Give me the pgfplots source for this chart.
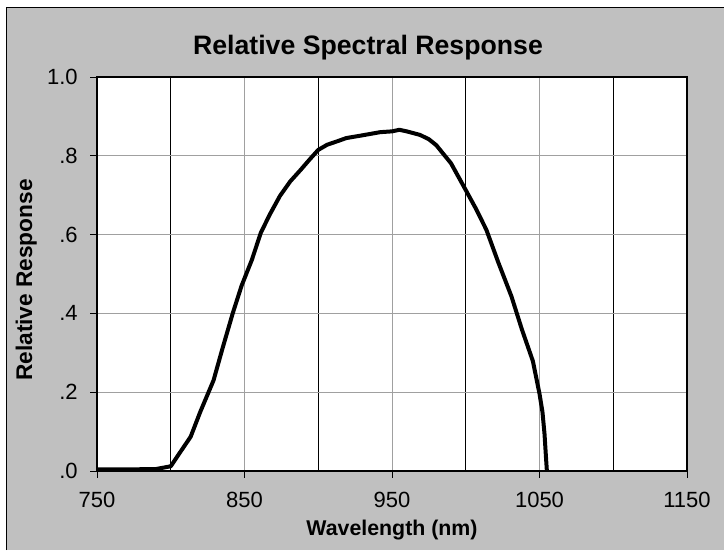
\documentclass[border=0pt]{standalone}
\usepackage{fontspec}
\setmainfont{Liberation Sans}
\usepackage{pgfplots}
\pgfplotsset{compat=1.18}
\definecolor{bggray}{HTML}{C0C0C0}
\definecolor{gridgray}{HTML}{A0A0A0}

% spectral response
\pgfplotstableread{
lam   r
750   0.004
770   0.004
790   0.005
800   0.012
805   0.040
813.5 0.087
820   0.150
829   0.230
835   0.310
842   0.400
848   0.470
855   0.536
861   0.604
867   0.650
874   0.698
881   0.735
888   0.764
894   0.790
900   0.815
906   0.828
913   0.837
919   0.845
930   0.852
942   0.860
950   0.862
955   0.866
960   0.862
969   0.853
975   0.842
980   0.827
990   0.781
1000  0.713
1007  0.665
1014  0.612
1022  0.530
1031  0.443
1038  0.360
1045.5 0.279
1050  0.196
1052  0.150
1053.4 0.094
1054.3 0.040
1055  0.000
}\resp

\begin{document}
\begin{tikzpicture}
\path[use as bounding box] (0,0) rectangle (543pt,412.5pt);
\fill[bggray] (5pt,0) rectangle (543pt,406.5pt);
\draw[black, line width=0.75pt] (5pt,0) -- (5pt,406.5pt) -- (543pt,406.5pt);

\begin{axis}[
  at={(72.75pt,59.25pt)}, anchor=south west,
  scale only axis, width=442.5pt, height=295.5pt,
  xmin=750, xmax=1150, ymin=0, ymax=1,
  xtick={750,850,950,1050,1150},
  minor xtick={800,900,1000,1100},
  ytick={0,0.2,0.4,0.6,0.8,1},
  yticklabels={.0,.2,.4,.6,.8,1.0},
  xtick pos=lower, ytick pos=left,
  xmajorgrids, ymajorgrids, xminorgrids,
  major grid style={gridgray, line width=0.6pt},
  minor grid style={black, line width=0.6pt},
  tick align=outside, major tick length=5pt, minor tick length=0pt,
  tick style={black, line width=0.6pt},
  axis line style={black, line width=0.9pt},
  axis background/.style={fill=white},
  xticklabel style={font=\fontsize{16.5}{19}\selectfont, yshift=-7pt},
  yticklabel style={font=\fontsize{16.5}{19}\selectfont, xshift=-6pt},
  /pgf/number format/assume math mode=true,
  xticklabel={\pgfmathprintnumber[1000 sep=]{\tick}},
  clip=false,
]
\addplot[black, line width=3pt, line join=round] table[x=lam, y=r] {\resp};
\end{axis}

\node[anchor=base, font=\fontsize{20}{24}\selectfont\bfseries] at (276pt,371.8pt) {Relative Spectral Response};
\node[anchor=base, font=\fontsize{16}{19}\selectfont\bfseries] at (294pt,11.25pt) {Wavelength (nm)};
\node[anchor=base, rotate=90, font=\fontsize{17}{20}\selectfont\bfseries] at (24pt,202.5pt) {Relative Response};
\end{tikzpicture}
\end{document}
